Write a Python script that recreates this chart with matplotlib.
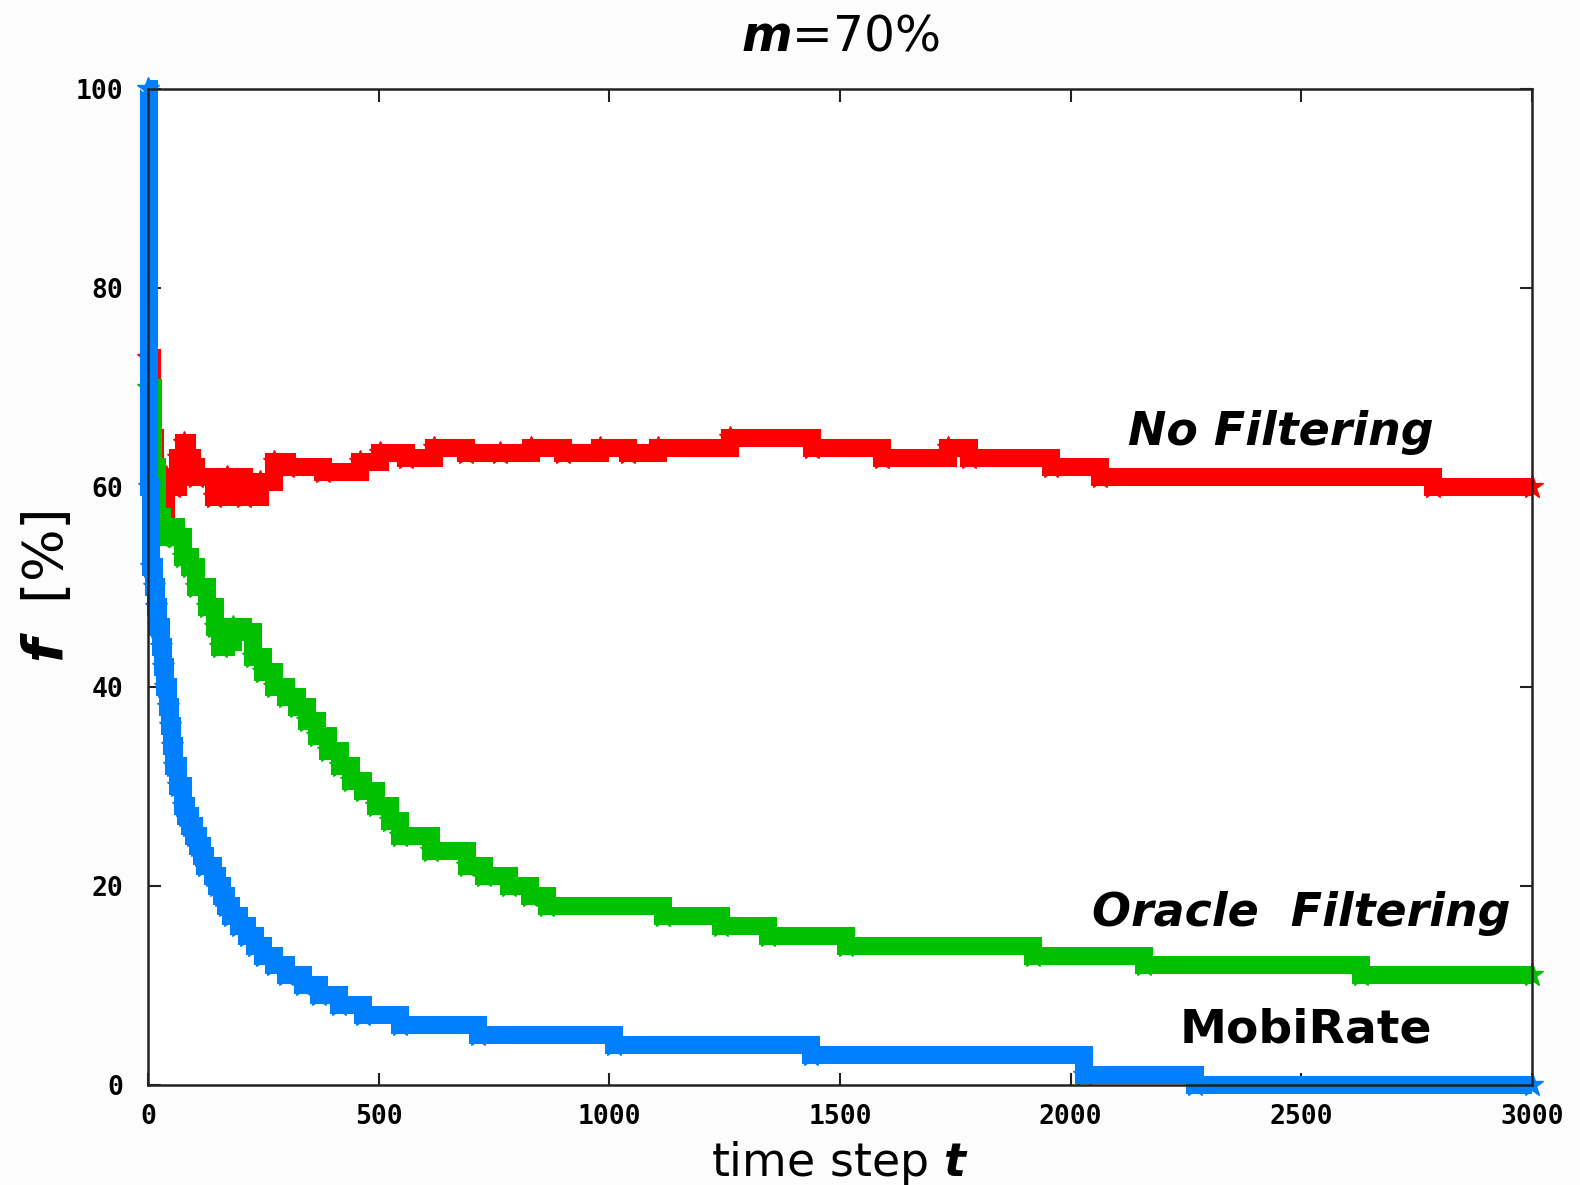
import matplotlib
matplotlib.use("Agg")
import matplotlib.pyplot as plt
import numpy as np

# No Filtering (red)
t_nofilt = [0, 8, 15, 25, 30, 40, 55, 66, 77, 85, 95, 105, 142, 171, 207, 243, 272, 301,
            380, 460, 503, 560, 620, 690, 763, 830, 900, 980, 1040, 1105, 1262, 1440,
            1591, 1734, 1780, 1958, 2064, 2786, 3000]
f_nofilt = [73, 65, 58, 57, 57, 61, 60, 63, 64.5, 63, 62, 61, 59, 61, 59, 60.5, 62.5, 62,
            61.5, 62.5, 63.5, 63, 64, 63.5, 63.5, 64, 63.5, 64, 63.5, 64, 65, 64,
            63, 64, 63, 62, 61, 60, 60]

# Oracle Filtering (green)
t_oracle = [0, 10, 20, 30, 45, 60, 75, 90, 105, 127, 145, 156, 170, 185, 205, 228, 250, 272,
            300, 322, 345, 366, 390, 416, 440, 467, 495, 525, 546, 614, 692, 728, 783, 828,
            865, 1116, 1241, 1344, 1513, 1918, 2159, 2630, 3000]
f_oracle = [70, 62, 57, 55, 56, 55, 53, 52, 50, 48, 46, 44, 44.5, 46, 45.5, 43, 41.5, 40,
            39, 38, 36.5, 35, 33.5, 32, 30.5, 29.5, 28, 26.5, 25, 23.5, 22, 21, 20, 19,
            18, 17, 16, 15, 14, 13, 12, 11, 11]

# MobiRate (blue)
t_mobi = [0, 3, 6, 12, 18, 22, 27, 32, 37, 43, 48, 52, 57, 66, 76, 82, 90, 100, 108, 116,
          124, 140, 150, 160, 170, 180, 198, 215, 232, 250, 272, 300, 335, 370, 415, 465,
          546, 715, 1010, 1437, 2030, 2270, 3000]
f_mobi = [100, 60, 52, 50, 48, 46, 44, 42, 40, 38, 36, 34, 32, 30, 28, 27, 26, 25, 24, 23,
          22, 21, 20, 19, 18, 17, 16, 15, 14, 13, 12, 11, 10, 9, 8, 7,
          6, 5, 4, 3, 1, 0, 0]

xticks = [0, 500, 1000, 1500, 2000, 2500, 3000]
yticks = [0, 20, 40, 60, 80, 100]

plt.rcParams['mathtext.fontset'] = 'dejavusans'

fig = plt.figure(figsize=(15.8, 11.85), dpi=100, facecolor='#fcfcfc')
ax = fig.add_axes([0.0937, 0.0844, 0.8759, 0.8405])
ax.set_facecolor('white')

series = [(t_nofilt, f_nofilt, '#ff0000', 2),
          (t_oracle, f_oracle, '#00c000', 3),
          (t_mobi, f_mobi, '#0080ff', 4)]
for t, f, c, z in series:
    ax.step(t, f, where='post', color=c, lw=13, solid_capstyle='butt',
            solid_joinstyle='miter', zorder=z, clip_on=False)
    ax.plot(t, f, ls='none', marker='*', ms=17, color=c, zorder=z, clip_on=False)

ax.set_xlim(0, 3000)
ax.set_ylim(0, 100)
ax.set_xticks(xticks)
ax.set_yticks(yticks)
ax.tick_params(direction='in', length=9, width=1.5, top=True, right=True, color='#222222')
ax.tick_params(axis='x', pad=14)
ax.tick_params(axis='y', pad=18)
for lab in ax.get_xticklabels() + ax.get_yticklabels():
    lab.set_fontfamily('DejaVu Sans Mono')
    lab.set_fontweight('bold')
    lab.set_fontsize(19)
for sp in ax.spines.values():
    sp.set_linewidth(1.8)
    sp.set_color('#222222')
    sp.set_zorder(5)

ax.set_title(r"$\mathbfit{m}$=70%", fontsize=35, pad=28)
ax.set_xlabel(r"time step $\mathbfit{t}$", fontsize=33, labelpad=6)
ax.set_ylabel(r"$\mathbfit{f}$  [%]", fontsize=40, labelpad=0)

lab_kw = dict(fontweight='bold', ha='center', va='center', zorder=6)
ax.text(2455, 65.5, "No Filtering", style='italic', fontsize=33, **lab_kw)
ax.text(2500, 17.2, "Oracle  Filtering", style='italic', fontsize=33,
        bbox=dict(facecolor='white', edgecolor='none', pad=6), **lab_kw)
ax.text(2510, 5.5, "MobiRate", fontsize=34,
        bbox=dict(facecolor='white', edgecolor='none', pad=8), **lab_kw)

fig.savefig("out.png", dpi=100, facecolor=fig.get_facecolor())
